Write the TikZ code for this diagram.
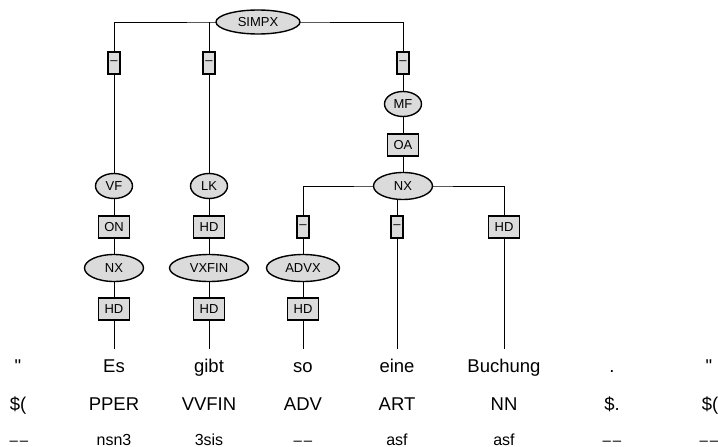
\documentclass[tikz,border=0pt]{standalone}
\usepackage{fontspec}
\newfontfamily\treefont{Liberation Sans}
\usetikzlibrary{shapes.geometric,backgrounds}

\newcommand{\nomorph}{{\fontsize{15}{16}\selectfont–\kern2pt–}}

\begin{document}
\begin{tikzpicture}[
    x=1pt, y=-1pt,
    line width=1.4pt,
    every node/.style={font=\treefont\fontsize{13}{15}\selectfont},
    cat/.style={
        ellipse,
        draw,
        fill=black!14,
        inner sep=0pt,
        minimum height=25pt,
        minimum width=#1
    },
    edgelabel/.style={
        rectangle,
        draw,
        fill=black!14,
        inner sep=0pt,
        minimum height=22pt,
        minimum width=#1
    },
    word/.style={
        anchor=base,
        inner sep=0pt,
        text height=22pt,
        font=\treefont\fontsize{18.5}{20}\selectfont
    },
    postag/.style={
        anchor=base,
        inner sep=0pt,
        font=\treefont\fontsize{18.5}{20}\selectfont
    },
    morph/.style={
        anchor=base,
        inner sep=0pt,
        font=\treefont\fontsize{16}{18}\selectfont
    }
]
\useasboundingbox (0,0) rectangle (718,447);

% Root
\node[cat=84pt, minimum height=24pt] (simpx) at (258,22) {SIMPX};
\node[edgelabel=12pt] (fvf) at (114,63) {–};
\node[edgelabel=12pt] (flk) at (209,63) {–};
\node[edgelabel=12pt] (fmf) at (403,63) {–};

% Vorfeld
\node[cat=37pt] (vf) at (114,186) {VF};
\node[edgelabel=31pt] (on) at (114,227) {ON};
\node[cat=59pt, minimum height=27pt] (nxes) at (114,268) {NX};
\node[edgelabel=31pt] (hdes) at (114,309) {HD};

% Linke Klammer
\node[cat=37pt] (lk) at (209,186) {LK};
\node[edgelabel=31pt] (hdlk) at (209,227) {HD};
\node[cat=79pt, minimum height=27pt] (vxfin) at (209,268) {VXFIN};
\node[edgelabel=31pt] (hdgibt) at (209,309) {HD};

% Mittelfeld
\node[cat=37pt] (mf) at (403,104) {MF};
\node[edgelabel=31pt] (oa) at (403,145) {OA};
\node[cat=59pt, minimum height=27pt] (nxobj) at (403,186) {NX};
\node[edgelabel=12pt] (fadvx) at (303,227) {–};
\node[edgelabel=12pt] (fart) at (397,227) {–};
\node[edgelabel=31pt] (hdnn) at (504,227) {HD};
\node[cat=73pt, minimum height=27pt] (advx) at (303,268) {ADVX};
\node[edgelabel=31pt] (hdso) at (303,309) {HD};

% Terminals
\node[word] (w1) at (18,372) {"};
\node[word] (w2) at (114,372) {Es};
\node[word] (w3) at (209,372) {gibt};
\node[word] (w4) at (303,372) {so};
\node[word] (w5) at (397,372) {eine};
\node[word] (w6) at (504,372) {Buchung};
\node[word] (w7) at (612,372) {.};
\node[word] (w8) at (709,372) {"};

\node[postag] (t1) at (18,410) {\$(};
\node[postag] (t2) at (114,410) {PPER};
\node[postag] (t3) at (209,410) {VVFIN};
\node[postag] (t4) at (303,410) {ADV};
\node[postag] (t5) at (397,410) {ART};
\node[postag] (t6) at (504,410) {NN};
\node[postag] (t7) at (612,410) {\$.};
\node[postag] (t8) at (710,410) {\$(};

\node[morph] (m1) at (19,445) {\nomorph};
\node[morph] (m2) at (114,445) {nsn3};
\node[morph] (m3) at (209,445) {3sis};
\node[morph] (m4) at (303,445) {\nomorph};
\node[morph] (m5) at (397,445) {asf};
\node[morph] (m6) at (504,445) {asf};
\node[morph] (m7) at (612,445) {\nomorph};
\node[morph] (m8) at (709,445) {\nomorph};

% Edges
\begin{scope}[on background layer]
\draw (fvf.center) |- (simpx.center) -| (fmf.center);
\draw (flk.center) -- (flk |- simpx.center);
\draw (fvf) -- (vf) -- (on) -- (nxes) -- (hdes) -- (w2.north);
\draw (flk) -- (lk) -- (hdlk) -- (vxfin) -- (hdgibt) -- (w3.north);
\draw (fmf) -- (mf) -- (oa) -- (nxobj);
\draw (fadvx.center) |- (nxobj.center) -| (hdnn.center);
\draw (fart.center) -- (fart |- nxobj.center);
\draw (fadvx) -- (advx) -- (hdso) -- (w4.north);
\draw (fart) -- (w5.north);
\draw (hdnn) -- (w6.north);
\end{scope}

\end{tikzpicture}
\end{document}
